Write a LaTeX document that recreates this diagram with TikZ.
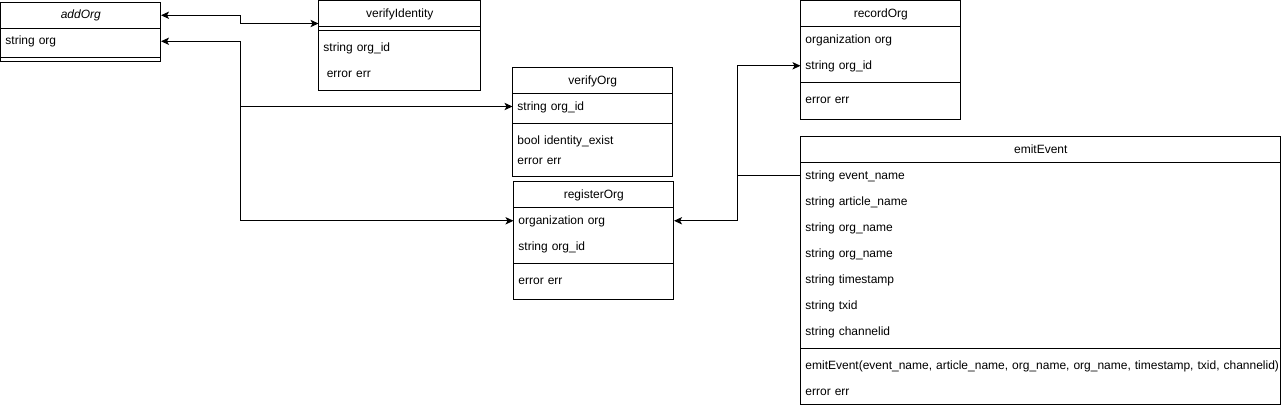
\documentclass[tikz,border=0pt]{standalone}
\usepackage{fontspec}
\setmainfont{Liberation Sans}
\usetikzlibrary{arrows.meta}
\tikzset{
	umlbox/.style={line width=0.75pt},
	head/.style={anchor=north west, minimum height=19.5pt, inner xsep=3.5pt, inner ysep=0pt,
		text height=6.5pt, text depth=1.5pt,
		text width=113pt, align=center, font=\fontsize{9}{11}\selectfont},
	attr/.style={anchor=north west, minimum height=19.5pt, inner xsep=3.5pt, inner ysep=0pt,
		text height=6.5pt, text depth=1.5pt,
		text width=113pt, align=left, font=\fontsize{9}{11}\selectfont},
	wide/.style={text width=353pt},
	link/.style={line width=0.75pt, -{Stealth[length=6pt,width=5.5pt,inset=1.5pt]}},
	links/.style={line width=0.75pt, {Stealth[length=6pt,width=5.5pt,inset=1.5pt]}-{Stealth[length=6pt,width=5.5pt,inset=1.5pt]}},
}

\begin{document}
\begin{tikzpicture}[x=0.75pt, y=-0.75pt]
		%%%%% START %%%%%
		\useasboundingbox (0,0) rectangle (1281,405);
		
		% addOrg
		\draw[umlbox] (0.5,2) rectangle (160.5,61.5);
		\node[head] (addOrg) at (0.5,2) {\textit{addOrg}};
		\draw[umlbox] (0.5,28) -- (160.5,28);
		\node[attr] (addOrgOrg) at (0.5,28) {string org};
		\draw[umlbox] (0.5,57.5) -- (160.5,57.5);
		
		% verifyIdentity
		\draw[umlbox] (318.5,0.5) rectangle (480.5,90.5);
		\node[head, text width=114.5pt] (verifyIdentity) at (318.5,0.5) {verifyIdentity};
		\draw[umlbox] (318.5,26.5) -- (480.5,26.5);
		\draw[umlbox] (318.5,30.5) -- (480.5,30.5);
		\node[attr] (verifyIdentityId) at (318.5,34.5) {string org\_id};
		\node[attr] (verifyIdentityErr) at (318.5,60.5) {\hspace*{2.5pt}error err};
		
		% verifyOrg
		\draw[umlbox] (512.5,67.5) rectangle (672.5,176.5);
		\node[head] (verifyOrg) at (512.5,67.5) {verifyOrg};
		\draw[umlbox] (512.5,93.5) -- (672.5,93.5);
		\node[attr] (verifyOrgId) at (512.5,93.5) {string org\_id};
		\draw[umlbox] (512.5,123.5) -- (672.5,123.5);
		\node[attr, minimum height=15pt] (verifyOrgExist) at (512.5,130.5) {bool identity\_exist};
		\node[attr, minimum height=15pt] (verifyOrgErr) at (512.5,150.5) {error err};
		
		% registerOrg
		\draw[umlbox] (513.5,181.5) rectangle (673.5,299.5);
		\node[head] (registerOrg) at (513.5,181.5) {registerOrg};
		\draw[umlbox] (513.5,207.5) -- (673.5,207.5);
		\node[attr] (registerOrgOrg) at (513.5,207.5) {organization org};
		\node[attr] (registerOrgId) at (513.5,233.5) {string org\_id};
		\draw[umlbox] (513.5,263.5) -- (673.5,263.5);
		\node[attr] (registerOrgErr) at (513.5,267.5) {error err};
		
		% recordOrg
		\draw[umlbox] (800.5,0.5) rectangle (960.5,119.5);
		\node[head] (recordOrg) at (800.5,0.5) {recordOrg};
		\draw[umlbox] (800.5,26.5) -- (960.5,26.5);
		\node[attr] (recordOrgOrg) at (800.5,26.5) {organization org};
		\node[attr] (recordOrgId) at (800.5,52.5) {string org\_id};
		\draw[umlbox] (800.5,82.5) -- (960.5,82.5);
		\node[attr] (recordOrgErr) at (800.5,86.5) {error err};
		
		% emitEvent
		\draw[umlbox] (800.5,136.5) rectangle (1280.5,404.5);
		\node[head, wide] (emitEvent) at (800.5,136.5) {emitEvent};
		\draw[umlbox] (800.5,162.5) -- (1280.5,162.5);
		\foreach \i/\txt in {0/event\_name, 1/article\_name, 2/org\_name, 3/org\_name, 4/timestamp, 5/txid, 6/channelid}
			\node[attr, wide] (emitAttr\i) at (800.5,{162.5+26*\i}) {string \txt};
		\draw[umlbox] (800.5,348.5) -- (1280.5,348.5);
		\node[attr, wide] (emitCall) at (800.5,352.5) {\mbox{emitEvent(event\_name, article\_name, org\_name, org\_name, timestamp, txid, channelid)}};
		\node[attr, wide] (emitErr) at (800.5,378.5) {error err};
		
		% connectors
		\coordinate (bend) at (240.5,23.5);
		\coordinate (split) at (240.5,106.5);
		\coordinate (hub) at (737.5,175.5);
		\draw[links] (addOrg.east) -| (bend) -- (bend -| verifyIdentity.west);
		\draw[links] (addOrgOrg.east) -| (split) |- (registerOrgOrg.west);
		\draw[link] (split) -- (split -| verifyOrgId.west);
		\draw[links] (registerOrgOrg.east) -| (hub) |- (recordOrgId.west);
		\draw[umlbox] (emitAttr0.west) -- (emitAttr0.west -| hub);
		
		%%%%% END %%%%%
	\end{tikzpicture}
\end{document}
